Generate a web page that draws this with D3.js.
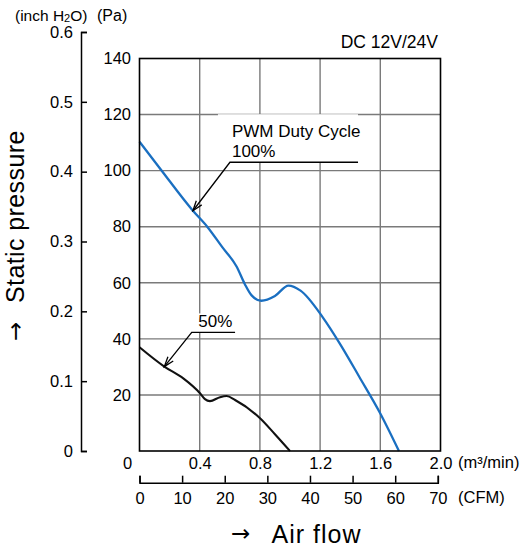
<!DOCTYPE html>
<html>
<head>
<meta charset="utf-8">
<script src="https://cdn.jsdelivr.net/npm/d3@7"></script>
<style>
  body { margin: 0; background: #fff; }
  svg { display: block; font-family: "Liberation Sans", Arial, sans-serif; }
</style>
</head>
<body>
<script>
const WIDTH = 531;
const HEIGHT = 550;

// plot box (pixels)
const PLOT = {LEFT: 139.5, RIGHT: 440.5, TOP: 58.5, BOTTOM: 451};

// air flow in m3/min, static pressure in Pa
const flow100 = [0, 0.14, 0.355, 0.45, 0.55, 0.646, 0.70, 0.745, 0.81, 0.90, 0.99, 1.07, 1.22, 1.33, 1.46, 1.60, 1.724];
const pa100   = [110.3, 100.5, 85.7, 80.0, 72.7, 65.7, 59.5, 55.5, 53.6, 55.3, 59.0, 57.2, 47.5, 38.4, 26.5, 13.4, 0];

const flow50 = [0, 0.165, 0.291, 0.402, 0.435, 0.468, 0.535, 0.579, 0.635, 0.801, 0.90, 1.0];
const pa50   = [37.0, 30.1, 25.9, 20.6, 18.5, 17.8, 19.2, 19.6, 18.2, 11.7, 6.0, 0];

// tick values
const flowTicks = [0, 0.4, 0.8, 1.2, 1.6, 2.0];
const cfmTicks = [0, 10, 20, 30, 40, 50, 60, 70];
const paTicks = [20, 40, 60, 80, 100, 120, 140];
const inchTicks = [0, 0.1, 0.2, 0.3, 0.4, 0.5, 0.6];

const PA_PER_INCH = 249.09;
const M3MIN_PER_CFM = 0.0283168;

var svg = d3.select("body").append("svg")
    .attr("width", WIDTH)
    .attr("height", HEIGHT);

var x = d3.scaleLinear().domain([0, 2]).range([PLOT.LEFT, PLOT.RIGHT]);
var y = d3.scaleLinear().domain([0, 140]).range([PLOT.BOTTOM, PLOT.TOP]);
var yInch = d3.scaleLinear().domain([0, 0.6]).range([y(0), y(0.6 * PA_PER_INCH)]);
var xCfm = d3.scaleLinear().domain([0, 70]).range([x(0), x(70 * M3MIN_PER_CFM)]);

// grid
svg.append("g").selectAll("line")
    .data(flowTicks.slice(1, -1))
    .join("line")
        .attr("x1", d => x(d)).attr("x2", d => x(d))
        .attr("y1", PLOT.TOP).attr("y2", PLOT.BOTTOM)
        .attr("stroke", "#7a7a7a").attr("stroke-width", 1.4);

svg.append("g").selectAll("line")
    .data(paTicks.slice(0, -1))
    .join("line")
        .attr("x1", PLOT.LEFT).attr("x2", PLOT.RIGHT)
        .attr("y1", d => y(d)).attr("y2", d => y(d))
        .attr("stroke", "#7a7a7a").attr("stroke-width", 1.4);

// curves
var line = d3.line()
    .x(d => x(d[0]))
    .y(d => y(d[1]))
    .curve(d3.curveMonotoneX);

svg.append("path")
    .datum(d3.zip(flow100, pa100))
    .attr("d", line)
    .attr("fill", "none")
    .attr("stroke", "#1a6fc1")
    .attr("stroke-width", 2.3);

svg.append("path")
    .datum(d3.zip(flow50, pa50))
    .attr("d", line)
    .attr("fill", "none")
    .attr("stroke", "#111")
    .attr("stroke-width", 2.1);

// annotations (leader lines given in data units)
var notes = [
    {lines: ["PWM Duty Cycle", "100%"], tip: [0.355, 85.7], elbow: [0.601, 103], end: [1.452, 103], dx: 2, padTop: 48},
    {lines: ["50%"], tip: [0.165, 30.1], elbow: [0.347, 42.3], end: [0.635, 42.3], dx: 6.5, padTop: 19}
];

var defs = svg.append("defs");
defs.append("marker")
    .attr("id", "arrow")
    .attr("markerUnits", "userSpaceOnUse")
    .attr("viewBox", "-12 -6 14 12")
    .attr("markerWidth", 14).attr("markerHeight", 12)
    .attr("refX", 0).attr("refY", 0)
    .attr("orient", "auto")
    .append("path")
        .attr("d", "M-10,-3.4L0,0L-10,3.4")
        .attr("fill", "none")
        .attr("stroke", "#000")
        .attr("stroke-width", 1.3);

notes.forEach(function(n) {
    var ly = y(n.elbow[1]);
    var ex = x(n.elbow[0]);
    // white backing that hides the grid behind the label
    svg.append("rect")
        .attr("x", ex - 12)
        .attr("y", ly - n.padTop)
        .attr("width", x(n.end[0]) - ex + 12)
        .attr("height", n.padTop)
        .attr("fill", "#fff");
    n.lines.forEach(function(t, i) {
        svg.append("text")
            .attr("x", ex + n.dx)
            .attr("y", ly - 5 - (n.lines.length - 1 - i) * 20)
            .attr("font-size", 17)
            .text(t);
    });
    svg.append("path")
        .attr("d", d3.line()([[x(n.end[0]), ly], [ex, ly], [x(n.tip[0]), y(n.tip[1])]]))
        .attr("fill", "none")
        .attr("stroke", "#000")
        .attr("stroke-width", 1.3)
        .attr("marker-end", "url(#arrow)");
});

// plot border
svg.append("rect")
    .attr("x", PLOT.LEFT).attr("y", PLOT.TOP)
    .attr("width", PLOT.RIGHT - PLOT.LEFT)
    .attr("height", PLOT.BOTTOM - PLOT.TOP)
    .attr("fill", "none")
    .attr("stroke", "#000")
    .attr("stroke-width", 1.6);

// Pa axis labels
var paAxis = d3.axisLeft(y)
    .tickValues(paTicks)
    .tickSize(0)
    .tickPadding(8.5);
var gPa = svg.append("g")
    .attr("transform", "translate(" + PLOT.LEFT + ",0)")
    .call(paAxis);
gPa.select(".domain").remove();

// inch H2O axis
var inchAxis = d3.axisLeft(yInch)
    .tickValues(inchTicks)
    .tickSizeInner(-6)
    .tickSizeOuter(-6)
    .tickPadding(8)
    .tickFormat(d => d === 0 ? "0" : d3.format(".1f")(d));
svg.append("g")
    .attr("transform", "translate(81,0)")
    .call(inchAxis);

// m3/min axis labels
var flowAxis = d3.axisBottom(x)
    .tickValues(flowTicks)
    .tickSize(0)
    .tickPadding(6)
    .tickFormat(d => d === 0 ? "0" : d3.format(".1f")(d));
var gFlow = svg.append("g")
    .attr("transform", "translate(0," + PLOT.BOTTOM + ")")
    .call(flowAxis);
gFlow.select(".domain").remove();
gFlow.selectAll(".tick text").filter(d => d === 0).attr("x", -12.5);

// CFM axis
var cfmAxis = d3.axisBottom(xCfm)
    .tickValues(cfmTicks)
    .tickSizeInner(-7)
    .tickSizeOuter(-7)
    .tickPadding(10);
svg.append("g")
    .attr("transform", "translate(0,482.7)")
    .call(cfmAxis);

svg.selectAll(".tick text").attr("font-size", 16.5).attr("fill", "#000")
    .attr("font-family", "Liberation Sans, Arial, sans-serif");
svg.selectAll(".domain, .tick line").attr("stroke", "#000").attr("stroke-width", 1.5);

// unit labels
var unitY = svg.append("text")
    .attr("x", 15).attr("y", 21)
    .attr("font-size", 15.5);
unitY.append("tspan").text("(inch H");
unitY.append("tspan").attr("font-size", 11).attr("dy", 1).text("2");
unitY.append("tspan").attr("dy", -1).text("O)");
svg.append("text")
    .attr("x", 97).attr("y", 21)
    .attr("font-size", 16)
    .text("(Pa)");

svg.append("text")
    .attr("x", 438).attr("y", 48)
    .attr("text-anchor", "end")
    .attr("font-size", 17.5)
    .text("DC 12V/24V");

svg.append("text")
    .attr("x", 458).attr("y", 468)
    .attr("font-size", 16.5)
    .text("(m³/min)");

svg.append("text")
    .attr("x", 458).attr("y", 503)
    .attr("font-size", 16.5)
    .text("(CFM)");

// axis titles
svg.append("text")
    .attr("x", 231).attr("y", 541)
    .attr("font-family", "DejaVu Sans")
    .attr("font-size", 23)
    .text("→");
svg.append("text")
    .attr("x", 271.5).attr("y", 543)
    .attr("font-size", 25)
    .attr("letter-spacing", 1)
    .text("Air flow");

var yTitle = svg.append("g")
    .attr("transform", "translate(24,341) rotate(-90)");
yTitle.append("text")
    .attr("x", 0).attr("y", -1)
    .attr("font-family", "DejaVu Sans")
    .attr("font-size", 23)
    .text("→");
yTitle.append("text")
    .attr("x", 38).attr("y", 0)
    .attr("font-size", 25)
    .attr("letter-spacing", 0.4)
    .text("Static pressure");
</script>
</body>
</html>
